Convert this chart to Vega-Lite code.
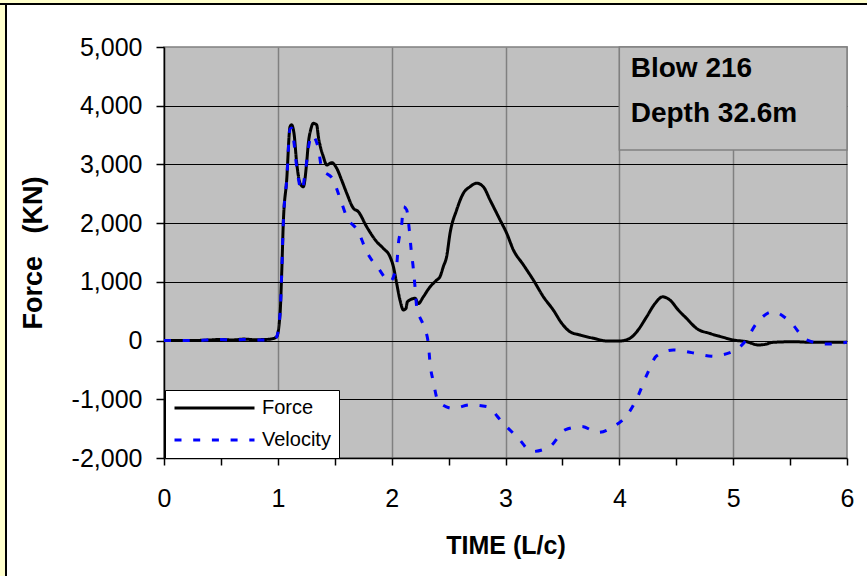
{
  "$schema": "https://vega.github.io/schema/vega-lite/v6.json",
  "autosize": "none",
  "width": 683,
  "height": 411,
  "padding": {"left": 164, "top": 47, "right": 20, "bottom": 118},
  "background": "white",
  "config": {
    "font": "Liberation Sans",
    "view": {"fill": "#c0c0c0", "stroke": "#808080", "strokeWidth": 1.5}
  },
  "datasets": {
    "curves": [
      {"t": 0, "value": 0, "series": "Force"},
      {"t": 0.2, "value": 0, "series": "Force"},
      {"t": 0.4, "value": 10, "series": "Force"},
      {"t": 0.5, "value": 20, "series": "Force"},
      {"t": 0.6, "value": 10, "series": "Force"},
      {"t": 0.7, "value": 25, "series": "Force"},
      {"t": 0.8, "value": 15, "series": "Force"},
      {"t": 0.9, "value": 20, "series": "Force"},
      {"t": 0.95, "value": 30, "series": "Force"},
      {"t": 0.99, "value": 66, "series": "Force"},
      {"t": 1.02, "value": 470, "series": "Force"},
      {"t": 1.034, "value": 1150, "series": "Force"},
      {"t": 1.048, "value": 2000, "series": "Force"},
      {"t": 1.078, "value": 2740, "series": "Force"},
      {"t": 1.107, "value": 3640, "series": "Force"},
      {"t": 1.12, "value": 3675, "series": "Force"},
      {"t": 1.142, "value": 3530, "series": "Force"},
      {"t": 1.166, "value": 3020, "series": "Force"},
      {"t": 1.195, "value": 2680, "series": "Force"},
      {"t": 1.224, "value": 2620, "series": "Force"},
      {"t": 1.253, "value": 3020, "series": "Force"},
      {"t": 1.268, "value": 3360, "series": "Force"},
      {"t": 1.29, "value": 3600, "series": "Force"},
      {"t": 1.312, "value": 3700, "series": "Force"},
      {"t": 1.341, "value": 3675, "series": "Force"},
      {"t": 1.356, "value": 3475, "series": "Force"},
      {"t": 1.4, "value": 3130, "series": "Force"},
      {"t": 1.43, "value": 2990, "series": "Force"},
      {"t": 1.473, "value": 3030, "series": "Force"},
      {"t": 1.517, "value": 2935, "series": "Force"},
      {"t": 1.56, "value": 2735, "series": "Force"},
      {"t": 1.605, "value": 2510, "series": "Force"},
      {"t": 1.663, "value": 2255, "series": "Force"},
      {"t": 1.707, "value": 2195, "series": "Force"},
      {"t": 1.78, "value": 1940, "series": "Force"},
      {"t": 1.868, "value": 1685, "series": "Force"},
      {"t": 1.927, "value": 1570, "series": "Force"},
      {"t": 1.985, "value": 1430, "series": "Force"},
      {"t": 2.015, "value": 1260, "series": "Force"},
      {"t": 2.044, "value": 975, "series": "Force"},
      {"t": 2.073, "value": 690, "series": "Force"},
      {"t": 2.103, "value": 520, "series": "Force"},
      {"t": 2.126, "value": 550, "series": "Force"},
      {"t": 2.138, "value": 660, "series": "Force"},
      {"t": 2.205, "value": 720, "series": "Force"},
      {"t": 2.234, "value": 630, "series": "Force"},
      {"t": 2.278, "value": 745, "series": "Force"},
      {"t": 2.337, "value": 915, "series": "Force"},
      {"t": 2.395, "value": 1030, "series": "Force"},
      {"t": 2.425, "value": 1090, "series": "Force"},
      {"t": 2.454, "value": 1260, "series": "Force"},
      {"t": 2.483, "value": 1430, "series": "Force"},
      {"t": 2.513, "value": 1830, "series": "Force"},
      {"t": 2.571, "value": 2225, "series": "Force"},
      {"t": 2.63, "value": 2510, "series": "Force"},
      {"t": 2.688, "value": 2620, "series": "Force"},
      {"t": 2.747, "value": 2680, "series": "Force"},
      {"t": 2.805, "value": 2620, "series": "Force"},
      {"t": 2.864, "value": 2395, "series": "Force"},
      {"t": 2.952, "value": 2055, "series": "Force"},
      {"t": 3.01, "value": 1830, "series": "Force"},
      {"t": 3.069, "value": 1545, "series": "Force"},
      {"t": 3.157, "value": 1290, "series": "Force"},
      {"t": 3.245, "value": 1030, "series": "Force"},
      {"t": 3.333, "value": 745, "series": "Force"},
      {"t": 3.42, "value": 520, "series": "Force"},
      {"t": 3.494, "value": 295, "series": "Force"},
      {"t": 3.567, "value": 150, "series": "Force"},
      {"t": 3.655, "value": 95, "series": "Force"},
      {"t": 3.771, "value": 40, "series": "Force"},
      {"t": 3.889, "value": -7, "series": "Force"},
      {"t": 4.006, "value": -7, "series": "Force"},
      {"t": 4.094, "value": 40, "series": "Force"},
      {"t": 4.153, "value": 150, "series": "Force"},
      {"t": 4.24, "value": 405, "series": "Force"},
      {"t": 4.313, "value": 630, "series": "Force"},
      {"t": 4.38, "value": 745, "series": "Force"},
      {"t": 4.445, "value": 690, "series": "Force"},
      {"t": 4.518, "value": 520, "series": "Force"},
      {"t": 4.592, "value": 375, "series": "Force"},
      {"t": 4.68, "value": 205, "series": "Force"},
      {"t": 4.797, "value": 120, "series": "Force"},
      {"t": 4.913, "value": 55, "series": "Force"},
      {"t": 5.0, "value": 10, "series": "Force"},
      {"t": 5.12, "value": -20, "series": "Force"},
      {"t": 5.22, "value": -75, "series": "Force"},
      {"t": 5.28, "value": -65, "series": "Force"},
      {"t": 5.35, "value": -30, "series": "Force"},
      {"t": 5.53, "value": -20, "series": "Force"},
      {"t": 5.7, "value": -30, "series": "Force"},
      {"t": 6.0, "value": -30, "series": "Force"},
      {"t": 0, "value": 0, "series": "Velocity"},
      {"t": 0.3, "value": 0, "series": "Velocity"},
      {"t": 0.4, "value": 15, "series": "Velocity"},
      {"t": 0.5, "value": 20, "series": "Velocity"},
      {"t": 0.6, "value": 10, "series": "Velocity"},
      {"t": 0.7, "value": 20, "series": "Velocity"},
      {"t": 0.8, "value": 10, "series": "Velocity"},
      {"t": 0.9, "value": 10, "series": "Velocity"},
      {"t": 0.97, "value": 30, "series": "Velocity"},
      {"t": 0.99, "value": 66, "series": "Velocity"},
      {"t": 1.02, "value": 470, "series": "Velocity"},
      {"t": 1.034, "value": 1150, "series": "Velocity"},
      {"t": 1.048, "value": 2000, "series": "Velocity"},
      {"t": 1.078, "value": 2740, "series": "Velocity"},
      {"t": 1.107, "value": 3600, "series": "Velocity"},
      {"t": 1.12, "value": 3620, "series": "Velocity"},
      {"t": 1.14, "value": 3400, "series": "Velocity"},
      {"t": 1.166, "value": 2950, "series": "Velocity"},
      {"t": 1.21, "value": 2560, "series": "Velocity"},
      {"t": 1.24, "value": 2850, "series": "Velocity"},
      {"t": 1.27, "value": 3300, "series": "Velocity"},
      {"t": 1.297, "value": 3500, "series": "Velocity"},
      {"t": 1.356, "value": 3275, "series": "Velocity"},
      {"t": 1.385, "value": 2935, "series": "Velocity"},
      {"t": 1.487, "value": 2735, "series": "Velocity"},
      {"t": 1.546, "value": 2425, "series": "Velocity"},
      {"t": 1.605, "value": 2110, "series": "Velocity"},
      {"t": 1.707, "value": 1855, "series": "Velocity"},
      {"t": 1.78, "value": 1515, "series": "Velocity"},
      {"t": 1.883, "value": 1230, "series": "Velocity"},
      {"t": 1.985, "value": 1005, "series": "Velocity"},
      {"t": 2.044, "value": 1290, "series": "Velocity"},
      {"t": 2.058, "value": 1630, "series": "Velocity"},
      {"t": 2.088, "value": 1970, "series": "Velocity"},
      {"t": 2.103, "value": 2280, "series": "Velocity"},
      {"t": 2.132, "value": 2225, "series": "Velocity"},
      {"t": 2.155, "value": 1885, "series": "Velocity"},
      {"t": 2.17, "value": 1570, "series": "Velocity"},
      {"t": 2.19, "value": 1230, "series": "Velocity"},
      {"t": 2.205, "value": 920, "series": "Velocity"},
      {"t": 2.22, "value": 575, "series": "Velocity"},
      {"t": 2.278, "value": 265, "series": "Velocity"},
      {"t": 2.322, "value": -45, "series": "Velocity"},
      {"t": 2.337, "value": -385, "series": "Velocity"},
      {"t": 2.366, "value": -700, "series": "Velocity"},
      {"t": 2.41, "value": -1040, "series": "Velocity"},
      {"t": 2.542, "value": -1155, "series": "Velocity"},
      {"t": 2.688, "value": -1095, "series": "Velocity"},
      {"t": 2.835, "value": -1125, "series": "Velocity"},
      {"t": 2.98, "value": -1410, "series": "Velocity"},
      {"t": 3.113, "value": -1665, "series": "Velocity"},
      {"t": 3.23, "value": -1890, "series": "Velocity"},
      {"t": 3.39, "value": -1805, "series": "Velocity"},
      {"t": 3.523, "value": -1520, "series": "Velocity"},
      {"t": 3.67, "value": -1465, "series": "Velocity"},
      {"t": 3.815, "value": -1565, "series": "Velocity"},
      {"t": 3.947, "value": -1465, "series": "Velocity"},
      {"t": 4.079, "value": -1240, "series": "Velocity"},
      {"t": 4.167, "value": -930, "series": "Velocity"},
      {"t": 4.24, "value": -590, "series": "Velocity"},
      {"t": 4.328, "value": -260, "series": "Velocity"},
      {"t": 4.474, "value": -160, "series": "Velocity"},
      {"t": 4.636, "value": -205, "series": "Velocity"},
      {"t": 4.81, "value": -265, "series": "Velocity"},
      {"t": 4.972, "value": -205, "series": "Velocity"},
      {"t": 5.103, "value": -20, "series": "Velocity"},
      {"t": 5.206, "value": 295, "series": "Velocity"},
      {"t": 5.35, "value": 490, "series": "Velocity"},
      {"t": 5.5, "value": 320, "series": "Velocity"},
      {"t": 5.646, "value": 10, "series": "Velocity"},
      {"t": 5.82, "value": -60, "series": "Velocity"},
      {"t": 6.0, "value": -30, "series": "Velocity"}
    ]
  },
  "layer": [
    {
      "data": {"values": [{}]},
      "mark": {"type": "rect", "fill": "#ffffcc", "stroke": "black", "strokeWidth": 2},
      "encoding": {
        "x": {"datum": -1.6, "type": "quantitative"},
        "x2": {"datum": -1.388},
        "y": {"datum": -5000, "type": "quantitative"},
        "y2": {"datum": 6500}
      }
    },
    {
      "data": {"values": [{}]},
      "mark": {"type": "rect", "fill": "#ffffcc", "stroke": "black", "strokeWidth": 2},
      "encoding": {
        "x": {"datum": -1.6, "type": "quantitative"},
        "x2": {"datum": 7},
        "y": {"datum": 5732, "type": "quantitative"},
        "y2": {"datum": 6500}
      }
    },
    {
      "data": {"values": [{}]},
      "mark": {"type": "rect", "fill": "#c0c0c0", "stroke": "#808080", "strokeWidth": 1.5},
      "encoding": {
        "x": {"datum": 4.0, "type": "quantitative"},
        "x2": {"datum": 6.0},
        "y": {"datum": 5000, "type": "quantitative"},
        "y2": {"datum": 3246}
      }
    },
    {
      "data": {"values": [{}]},
      "mark": {"type": "text", "text": ["Blow 216", "Depth 32.6m"], "align": "left", "baseline": "alphabetic", "fontSize": 28, "fontWeight": "bold", "lineHeight": 45, "color": "black", "font": "Liberation Sans"},
      "encoding": {
        "x": {"datum": 4.1, "type": "quantitative"},
        "y": {"datum": 4490, "type": "quantitative"}
      }
    },
    {
      "data": {"name": "curves"},
      "mark": {"type": "line", "strokeWidth": 3, "interpolate": "monotone", "clip": true},
      "encoding": {
        "x": {
          "field": "t", "type": "quantitative",
          "scale": {"domain": [0, 6], "nice": false, "zero": false},
          "axis": {
            "values": [0, 0.25, 0.5, 0.75, 1, 1.25, 1.5, 1.75, 2, 2.25, 2.5, 2.75, 3, 3.25, 3.5, 3.75, 4, 4.25, 4.5, 4.75, 5, 5.25, 5.5, 5.75, 6],
            "labelExpr": "datum.value % 1 === 0 ? format(datum.value, 'd') : ''",
            "labelFlush": false,
            "labelOverlap": false,
            "tickSize": 7, "tickColor": "black", "tickWidth": 1.5,
            "domainColor": "black", "domainWidth": 1.5,
            "labelFontSize": 25, "labelColor": "black", "labelPadding": 21, "labelFont": "Liberation Sans",
            "grid": true, "gridColor": "#808080", "gridWidth": 1.5,
            "gridOpacity": {"condition": {"test": "datum.value % 1 === 0 && datum.value > 0 && datum.value < 6", "value": 1}, "value": 0},
            "title": "TIME (L/c)", "titleFontSize": 25, "titleFontWeight": "bold", "titleColor": "black", "titlePadding": 22, "titleFont": "Liberation Sans"
          }
        },
        "y": {
          "field": "value", "type": "quantitative",
          "scale": {"domain": [-2000, 5000], "nice": false, "zero": false},
          "axis": {
            "values": [-2000, -1000, 0, 1000, 2000, 3000, 4000, 5000],
            "labelExpr": "replace(format(datum.value, ','), '−', '-')",
            "labelFlush": false,
            "tickSize": 8, "tickColor": "black", "tickWidth": 1.5,
            "domainColor": "black", "domainWidth": 1.5,
            "labelFontSize": 25, "labelColor": "black", "labelPadding": 14, "labelFont": "Liberation Sans",
            "grid": true, "gridColor": "black", "gridWidth": 1.2,
            "gridOpacity": {"condition": {"test": "datum.value < 5000 && datum.value > -2000", "value": 1}, "value": 0},
            "title": "Force\u00a0\u00a0\u00a0(KN)", "titleFontSize": 27, "titleFontWeight": "bold", "titleColor": "black", "titlePadding": 24, "titleFont": "Liberation Sans"
          }
        },
        "color": {
          "field": "series", "type": "nominal",
          "scale": {"domain": ["Force", "Velocity"], "range": ["#000000", "#0000ff"]},
          "legend": {
            "title": null, "orient": "none", "legendX": 1, "legendY": 343,
            "symbolType": "stroke", "symbolSize": 6400, "symbolStrokeWidth": 3,
            "labelFontSize": 20, "labelFont": "Liberation Sans", "labelColor": "black", "labelOffset": 6,
            "fillColor": "white", "strokeColor": "black", "padding": 8, "rowPadding": 12, "clipHeight": 20
          }
        },
        "strokeDash": {
          "field": "series", "type": "nominal",
          "scale": {"domain": ["Force", "Velocity"], "range": [[1, 0], [7, 11.7]]},
          "legend": {
            "title": null, "orient": "none", "legendX": 1, "legendY": 343,
            "symbolType": "stroke", "symbolSize": 6400, "symbolStrokeWidth": 3,
            "labelFontSize": 20, "labelFont": "Liberation Sans", "labelColor": "black", "labelOffset": 6,
            "fillColor": "white", "strokeColor": "black", "padding": 8, "rowPadding": 12, "clipHeight": 20
          }
        }
      }
    }
  ]
}
